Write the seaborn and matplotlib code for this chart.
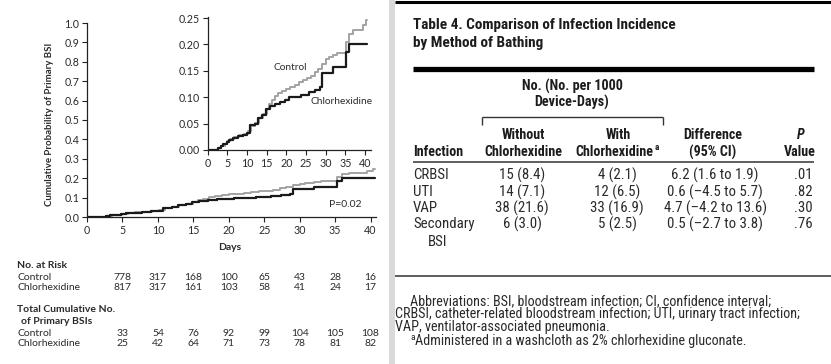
import matplotlib
matplotlib.use("Agg")
import numpy as np
import matplotlib.pyplot as plt
import seaborn as sns
from matplotlib import font_manager, transforms
from matplotlib.lines import Line2D
from matplotlib.patches import Rectangle

# ---- data ----
ctrl_days = [0, 2.7, 3.5, 4.3, 5.0, 5.8, 6.8, 8.0, 9.2, 10.2, 11.0, 12.0, 13.0, 14.0,
             15.0, 15.6, 16.3, 17.2, 18.0, 19.0, 20.0, 21.0, 22.2, 23.2, 24.2, 25.2,
             26.2, 27.2, 28.0, 29.0, 30.0, 30.8, 32.0, 33.0, 35.2, 36.0, 37.0, 39.5,
             40.4, 40.6]
ctrl_prob = [0, .004, .008, .012, .017, .021, .025, .028, .031, .036, .045, .052, .060,
             .068, .078, .088, .095, .102, .108, .112, .116, .120, .124, .128, .132,
             .136, .140, .148, .154, .163, .172, .177, .180, .184, .205, .220, .228,
             .236, .247, .247]

chx_days = [0, 2.7, 3.3, 4.0, 4.8, 5.5, 6.5, 7.8, 9.0, 9.9, 10.7, 12.0, 12.8, 13.9,
            14.8, 15.8, 17.0, 18.3, 19.6, 20.8, 23.8, 25.9, 27.4, 28.6, 29.0, 32.0,
            35.2, 36.0, 40.6]
chx_prob = [0, .004, .008, .011, .015, .019, .023, .026, .029, .033, .047, .050, .060,
            .067, .077, .083, .087, .091, .095, .100, .105, .110, .114, .120, .146,
            .157, .185, .200, .200]

risk_days = [5, 10, 15, 20, 25, 30, 35, 40]
risk_ctrl = [778, 317, 168, 100, 65, 43, 28, 16]
risk_chx = [817, 317, 161, 103, 58, 41, 24, 17]
cum_ctrl = [33, 54, 76, 92, 99, 104, 105, 108]
cum_chx = [25, 42, 64, 71, 73, 78, 81, 82]

main_yticks = [0.0, 0.1, 0.2, 0.3, 0.4, 0.5, 0.6, 0.7, 0.8, 0.9, 1.0]
inset_yticks = [0.00, 0.05, 0.10, 0.15, 0.20, 0.25]
xticks = [0, 5, 10, 15, 20, 25, 30, 35, 40]

tbl_infection = ["CRBSI", "UTI", "VAP", "Secondary"]
tbl_without = ["15 (8.4)", "14 (7.1)", "38 (21.6)", "6 (3.0)"]
tbl_with = ["4 (2.1)", "12 (6.5)", "33 (16.9)", "5 (2.5)"]
tbl_diff = ["6.2 (1.6 to 1.9)", "0.6 (\u20134.5 to 5.7)", "4.7 (\u20134.2 to 13.6)",
            "0.5 (\u20132.7 to 3.8)"]
tbl_p = [".01", ".82", ".30", ".76"]

footnotes = [
    "Abbreviations: BSI, bloodstream infection; CI, confidence interval;",
    "CRBSI, catheter-related bloodstream infection; UTI, urinary tract infection;",
    "VAP, ventilator-associated pneumonia.",
]

# ---- fonts ----
avail = {f.name for f in font_manager.fontManager.ttflist}


def pick(*names):
    for n in names:
        if n in avail:
            return n
    return "DejaVu Sans"


LEFT_FONT = pick("Lato", "Open Sans", "DejaVu Sans")
RIGHT_FONT = pick("Liberation Sans Narrow", "Roboto Condensed", "Liberation Sans", "DejaVu Sans")

sns.set_style("ticks")
plt.rcParams["font.family"] = LEFT_FONT

W, H = 831, 364
fig = plt.figure(figsize=(W / 100, H / 100), dpi=100)
fig.patch.set_facecolor("white")


def fx(x):
    return x / W


def fy(y):
    return 1 - y / H


def put(x, y, s, **kw):
    kw.setdefault("va", "center")
    fig.text(fx(x), fy(y), s, **kw)


def hline(x0, x1, y, lw, color="black"):
    fig.add_artist(Line2D([fx(x0), fx(x1)], [fy(y), fy(y)], transform=fig.transFigure,
                          lw=lw, color=color, solid_capstyle="butt"))


def vline(x, y0, y1, lw, color="black"):
    fig.add_artist(Line2D([fx(x), fx(x)], [fy(y0), fy(y1)], transform=fig.transFigure,
                          lw=lw, color=color, solid_capstyle="butt"))


CTRL_C = "#a3a3a3"
CHX_C = "#1a1a1a"
TXT_C = "#2a2a2a"
LF = 7.5  # left panel text size


def style_axis(ax, fs):
    for s in ["top", "right"]:
        ax.spines[s].set_visible(False)
    for s in ["left", "bottom"]:
        ax.spines[s].set_linewidth(0.9)
        ax.spines[s].set_color("#222222")
    ax.tick_params(direction="out", length=3.5, width=0.8, pad=2, labelsize=fs,
                   colors="#222222", labelcolor=TXT_C)
    ax.set_xlabel("")
    ax.set_ylabel("")


# ---- main survival-type plot ----
ax = fig.add_axes([fx(87), fy(217), 40.7 * 7.09 / W, 194 / H])
ax.set_facecolor("none")
sns.lineplot(x=ctrl_days, y=ctrl_prob, drawstyle="steps-post", color=CTRL_C, lw=1.4,
             estimator=None, ax=ax)
sns.lineplot(x=chx_days, y=chx_prob, drawstyle="steps-post", color=CHX_C, lw=1.6,
             estimator=None, ax=ax)
ax.set_xlim(0, 40.7)
ax.set_ylim(0, 1.0)
ax.set_xticks(xticks)
ax.set_xticklabels([str(t) for t in xticks])
ax.set_yticks(main_yticks)
ax.set_yticklabels([f"{v:.1f}" for v in main_yticks])
style_axis(ax, 7.7)
ax.text(0.895, 0.066, "P=0.02", transform=ax.transAxes, ha="center", va="center",
        fontsize=LF, color=TXT_C)

put(230, 247, "Days", ha="center", fontsize=LF, fontweight="bold", color=TXT_C)
put(50, 124.5, "Cumulative Probability of Primary BSI", ha="center", rotation=90,
    fontsize=6.9, fontweight="bold", color=TXT_C)

# ---- inset ----
axi = fig.add_axes([fx(207.7), fy(150), 41.6 * 3.93 / W, 133 / H])
axi.set_facecolor("none")
sns.lineplot(x=ctrl_days, y=ctrl_prob, drawstyle="steps-post", color=CTRL_C, lw=1.4,
             estimator=None, ax=axi)
sns.lineplot(x=chx_days, y=chx_prob, drawstyle="steps-post", color=CHX_C, lw=1.6,
             estimator=None, ax=axi)
axi.set_xlim(0, 41.6)
axi.set_ylim(0, 0.252)
axi.set_xticks(xticks)
axi.set_xticklabels([str(t) for t in xticks])
axi.set_yticks(inset_yticks)
axi.set_yticklabels([f"{v:.2f}" for v in inset_yticks])
style_axis(axi, 7.7)
put(290, 68, "Control", ha="center", fontsize=7.3, color=TXT_C)
put(342, 102, "Chlorhexidine", ha="center", fontsize=7.3, color=TXT_C)

# ---- numbers at risk / cumulative counts ----
tr = transforms.blended_transform_factory(ax.transData, fig.transFigure)
put(17, 265, "No. at Risk", fontsize=LF, fontweight="bold", color=TXT_C)
put(17, 277, "Control", fontsize=LF, color=TXT_C)
put(17, 288, "Chlorhexidine", fontsize=LF, color=TXT_C)
put(17, 310, "Total Cumulative No.", fontsize=LF, fontweight="bold", color=TXT_C)
put(21, 321, "of Primary BSIs", fontsize=LF, fontweight="bold", color=TXT_C)
put(17, 333, "Control", fontsize=LF, color=TXT_C)
put(17, 344, "Chlorhexidine", fontsize=LF, color=TXT_C)
for vals, y in [(risk_ctrl, 277), (risk_chx, 288), (cum_ctrl, 333), (cum_chx, 344)]:
    for d, v in zip(risk_days, vals):
        fig.text(d, fy(y), str(v), transform=tr, ha="center", va="center",
                 fontsize=LF, color=TXT_C)

# ---- divider and right-hand table ----
fig.add_artist(Rectangle((fx(389), 0), fx(6), 1, transform=fig.transFigure,
                         color="#d9d9d9", lw=0))
hline(395, 831, 1.5, 2.2)

RF = RIGHT_FONT
put(413, 25, "Table 4. Comparison of Infection Incidence", fontsize=11,
    fontweight="bold", family=RF, color="#1c1c1c")
put(413, 43, "by Method of Bathing", fontsize=11, fontweight="bold", family=RF,
    color="#1c1c1c")
hline(413, 814, 68.5, 3.8)

put(572, 86, "No. (No. per 1000", ha="center", fontsize=10.2, fontweight="bold",
    family=RF, color="#1c1c1c")
put(572, 102, "Device-Days)", ha="center", fontsize=10.2, fontweight="bold", family=RF,
    color="#1c1c1c")
hline(482, 663, 117, 1.0, "#333333")
vline(482, 117, 125, 1.0, "#333333")
vline(663, 117, 125, 1.0, "#333333")

hdr = dict(fontsize=10.1, fontweight="bold", family=RF, color="#1c1c1c")
put(523, 135, "Without", ha="center", **hdr)
put(618, 135, "With", ha="center", **hdr)
put(713, 135, "Difference", ha="center", **hdr)
put(801, 135, "P", ha="center", fontstyle="italic", **hdr)
put(413, 152, "Infection", ha="left", **hdr)
put(523, 152, "Chlorhexidine", ha="center", **hdr)
put(614, 152, "Chlorhexidine", ha="center", **hdr)
put(655, 147.5, "a", ha="left", fontsize=6.5, fontweight="bold", family=RF,
    color="#1c1c1c")
put(713, 152, "(95% CI)", ha="center", **hdr)
put(800, 152, "Value", ha="center", **hdr)
hline(413, 814, 162, 1.1, "#333333")

body = dict(fontsize=10.7, family=RF, color="#2a2a2a")
row_y = [175, 192, 208, 224]
for i, y in enumerate(row_y):
    put(413, y, tbl_infection[i], ha="left", **body)
    put(522, y, tbl_without[i], ha="center", **body)
    put(617, y, tbl_with[i], ha="center", **body)
    put(715, y, tbl_diff[i], ha="center", **body)
    put(803, y, tbl_p[i], ha="center", **body)
put(428, 242, "BSI", ha="left", **body)

hline(395, 831, 276, 1.1, "#333333")

foot = dict(fontsize=10.2, family=RF, color="#2a2a2a")
put(410, 301, footnotes[0], ha="left", **foot)
put(395, 314, footnotes[1], ha="left", **foot)
put(395, 327, footnotes[2], ha="left", **foot)
put(410, 337.5, "a", ha="left", fontsize=6.8, family=RF, color="#2a2a2a")
put(415, 341, "Administered in a washcloth as 2% chlorhexidine gluconate.", ha="left",
    **foot)

fig.savefig("out.png", dpi=100, facecolor="white")
